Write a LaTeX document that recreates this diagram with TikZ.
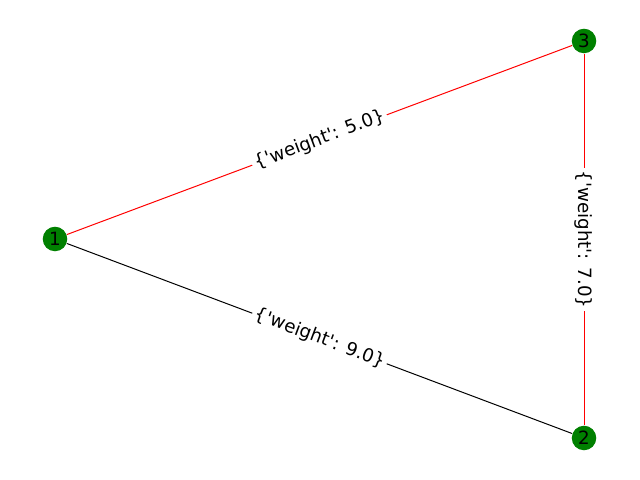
\documentclass[tikz,border=0pt]{standalone}
\usepackage{fontspec}
\setmainfont{DejaVu Sans}
\usetikzlibrary{positioning}
\definecolor{cgreen}{HTML}{008000}
\definecolor{cred}{HTML}{FF0000}
\newcommand{\wlabel}[1]{\{\textquotesingle weight\textquotesingle: #1\}}
\tikzset{
  every picture/.style={font=\fontsize{13.2}{15}\selectfont, line width=0.72pt},
  vertex/.style={circle, fill=cgreen, inner sep=0pt, minimum size=0.245in},
  edge/.style={draw=#1},
  edge/.default=black,
  wlab/.style={fill=white, inner sep=2pt, sloped, midway},
}

\begin{document}
\begin{tikzpicture}[x=0.01in, y=-0.01in]
  \useasboundingbox (0,0) rectangle (640,480);
  \node[vertex] (n1) at (55,239) {1};
  \node[vertex] (n3) at (584,41) {3};
  \node[vertex] (n2) at (584,438) {2};
  \draw[edge=cred] (n1) -- node[wlab] {\wlabel{5.0}} (n3);
  \draw[edge=cred] (n3) -- node[wlab] {\wlabel{7.0}} (n2);
  \draw[edge] (n1) -- node[wlab] {\wlabel{9.0}} (n2);
\end{tikzpicture}
\end{document}
